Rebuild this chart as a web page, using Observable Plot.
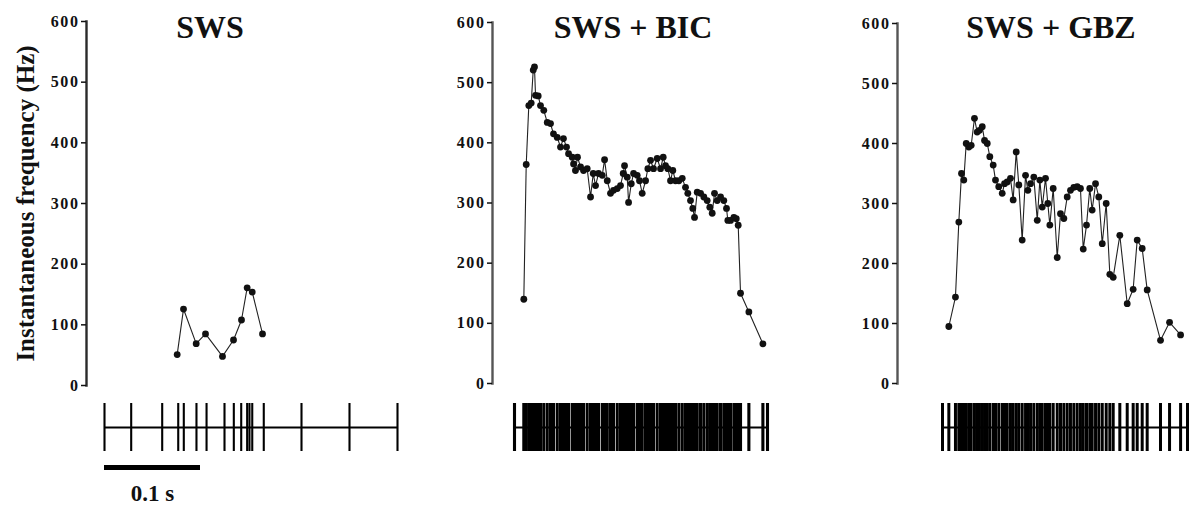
<!DOCTYPE html>
<html>
<head>
<meta charset="utf-8">
<script src="https://cdn.jsdelivr.net/npm/d3@7"></script>
<script src="https://cdn.jsdelivr.net/npm/@observablehq/plot@0.6"></script>
<style>
  html, body { margin: 0; padding: 0; background: #fff; }
  #fig { position: relative; width: 1190px; height: 506px; background: #fff; overflow: hidden; }
  #fig svg { position: absolute; }
  .title { position: absolute; font-family: 'Liberation Serif', 'Times New Roman', serif; font-weight: bold;
           font-size: 32px; line-height: 32px; text-align: center; color: #111; white-space: nowrap; }
  [aria-label="y-axis tick label"] text { letter-spacing: 1.6px; }
</style>
</head>
<body>
<div id="fig"></div>
<script>
// ---------- data (times in ms from start of raster, frequencies in Hz) ----------
const titles = ["SWS", "SWS + BIC", "SWS + GBZ"];
const yLabel = "Instantaneous frequency (Hz)";
const yTicks = [0, 100, 200, 300, 400, 500, 600];
const scaleBarMs = 100;
const scaleBarLabel = "0.1 s";

// SWS
const swsTimes = [75.7, 82.3, 95.5, 105.2, 122.9, 134.4, 142.7, 148.6, 153.9, 164.6];
const swsFreqs = [51, 126, 69, 85, 48, 75, 108, 161, 154, 85];
const swsSpikes = [0, 27.8, 60.1, 76.8, 82.6, 95.8, 106.3, 125.0, 134.7, 142.4, 148.6, 151.0, 153.9, 165.9, 205.2, 255.2, 305.2];

// SWS + BIC
const bicTimes = [9.7, 12.2, 14.9, 17.4, 19.5, 20.8, 21.9, 24.7, 27.1, 30.5, 34.1, 37.5, 40.6, 44.5, 47.9, 51.0,
  54.2, 56.3, 60.1, 61.5, 63.5, 65.6, 68.8, 71.9, 75.7, 79.2, 82.0, 84.4, 87.5, 91.4, 93.8, 96.6, 100.0, 103.1,
  107.0, 110.4, 113.2, 114.6, 117.4, 118.8, 121.6, 124.0, 127.8, 130.2, 133.0, 136.5, 138.9, 141.7, 144.8, 148.6,
  152.1, 154.9, 157.3, 159.7, 162.5, 164.9, 167.7, 171.2, 174.7, 178.1, 180.5, 183.3, 185.7, 187.5, 190.3, 193.8,
  197.2, 200.7, 203.4, 205.9, 208.3, 211.1, 214.6, 218.0, 220.8, 222.2, 225.0, 228.5, 231.0, 233.0, 235.4, 244.1, 258.7];
const bicFreqs = [140, 364, 462, 466, 521, 526, 479, 478, 462, 454, 434, 432, 415, 409, 393, 407,
  393, 382, 376, 365, 354, 376, 360, 354, 357, 310, 349, 329, 349, 346, 372, 337, 316, 321,
  324, 329, 349, 362, 343, 301, 332, 349, 346, 337, 316, 337, 357, 371, 357, 374,
  357, 376, 362, 357, 337, 354, 337, 337, 341, 326, 316, 304, 291, 276, 318, 316,
  310, 304, 293, 283, 316, 304, 310, 304, 291, 271, 271, 276, 274, 263, 150, 119, 66];
const bicFirstSpike = 0, bicLastSpike = 263.5;

// SWS + GBZ
const gbzTimes = [6.6, 13.5, 17.0, 19.8, 22.2, 24.7, 27.4, 29.9, 33.3, 36.1, 38.5, 41.4, 43.8, 46.6, 49.3, 52.8,
  55.2, 58.6, 62.2, 64.6, 67.4, 70.8, 73.6, 76.8, 79.5, 83.0, 86.5, 88.9, 91.7, 95.1, 98.7, 101.4, 103.9, 107.3,
  109.7, 111.8, 115.3, 119.5, 122.9, 126.4, 129.9, 133.3, 136.8, 140.3, 143.7, 146.6, 150.0, 153.4, 155.9, 159.4,
  162.8, 166.4, 170.5, 174.3, 177.8, 184.7, 192.4, 198.6, 202.8, 208.0, 213.2, 227.1, 236.5, 248.0];
const gbzFreqs = [95, 144, 269, 350, 339, 400, 394, 397, 442, 419, 422, 428, 405, 400, 378, 364,
  339, 328, 317, 333, 336, 342, 306, 386, 331, 239, 347, 322, 333, 344, 272, 339, 294, 342,
  300, 264, 325, 210, 283, 275, 311, 322, 327, 328, 325, 224, 264, 325, 289, 333,
  311, 233, 300, 182, 177, 247, 133, 157, 239, 225, 156, 72, 102, 81];
const gbzFirstSpike = 0, gbzLastSpike = 255.2;

// ---------- layout ----------
const layout = [
  {left: 0,   width: 420, axisX: 86,  y600: 21, y0: 385, xr: [104, 397],  T: 305.2, titleX: 210, axisColor: "#2a2a2a", spikeW: 2.1},
  {left: 420, width: 380, axisX: 492, y600: 22, y0: 383, xr: [514, 767],  T: 263.5, titleX: 633, axisColor: "#555",    spikeW: 3.1},
  {left: 800, width: 390, axisX: 897, y600: 23, y0: 383, xr: [942, 1187], T: 255.2, titleX: 1051, axisColor: "#555",   spikeW: 3.0}
];
const series = [
  {times: swsTimes, freqs: swsFreqs, spikes: swsSpikes},
  {times: bicTimes, freqs: bicFreqs, spikes: [bicFirstSpike, ...bicTimes, bicLastSpike]},
  {times: gbzTimes, freqs: gbzFreqs, spikes: [gbzFirstSpike, ...gbzTimes, gbzLastSpike]}
];

const FONT = "'Liberation Serif', 'Times New Roman', serif";
const fig = document.getElementById("fig");
const FREQ_H = 400, RASTER_TOP = 395, RASTER_H = 64;

function place(el, left, top) {
  el.style.left = left + "px";
  el.style.top = top + "px";
  fig.appendChild(el);
}

layout.forEach((p, i) => {
  const s = series[i];
  const data = s.times.map((t, k) => ({t, f: s.freqs[k]}));
  const xScale = {domain: [0, p.T], range: [p.xr[0] - p.left, p.xr[1] - p.left], axis: null};

  const freq = Plot.plot({
    width: p.width, height: FREQ_H,
    marginLeft: p.axisX - p.left, marginRight: 2,
    marginTop: p.y600, marginBottom: FREQ_H - p.y0,
    x: xScale,
    y: {domain: [0, 600]},
    style: {fontFamily: FONT, fontWeight: "bold", fontSize: "16px", color: "#111", background: "transparent", overflow: "visible"},
    marks: [
      Plot.frame({anchor: "left", stroke: p.axisColor, strokeWidth: 2.4}),
      Plot.axisY({ticks: yTicks, tickSize: 5, tickPadding: 2, tickFormat: d => String(d), label: null, strokeWidth: 1.5}),
      Plot.line(data, {x: "t", y: "f", stroke: "#222", strokeWidth: 1.1}),
      Plot.dot(data, {x: "t", y: "f", r: 3.4, fill: "#111", stroke: "none"}),
      i === 0 ? Plot.text([yLabel], {text: d => d, frameAnchor: "left", textAnchor: "middle", rotate: -90, dx: -61,
                                     fontSize: 25, fontWeight: "bold", fill: "#111"}) : null
    ]
  });
  place(freq, p.left, 0);

  const raster = Plot.plot({
    width: p.width, height: RASTER_H,
    marginLeft: 0, marginRight: 0, marginTop: 8, marginBottom: 8,
    x: xScale,
    y: {domain: [-1, 1], axis: null},
    style: {background: "transparent", overflow: "visible"},
    marks: [
      Plot.ruleX(s.spikes, {x: d => d, stroke: "#000", strokeWidth: p.spikeW}),
      Plot.ruleY([0], {x1: 0, x2: p.T, stroke: "#000", strokeWidth: 1.8})
    ]
  });
  place(raster, p.left, RASTER_TOP);

  const t = document.createElement("div");
  t.className = "title";
  t.textContent = titles[i];
  t.style.width = "300px";
  place(t, p.titleX - 150, 11);

  if (i === 0) {
    const bar = Plot.plot({
      width: p.width, height: 46,
      marginLeft: 0, marginRight: 0, marginTop: 0, marginBottom: 0,
      x: xScale,
      y: {domain: [0, 1], range: [7, 40], axis: null},
      style: {fontFamily: FONT, fontWeight: "bold", background: "transparent", overflow: "visible"},
      marks: [
        Plot.ruleY([0], {x1: 0, x2: scaleBarMs, stroke: "#000", strokeWidth: 5}),
        Plot.text([scaleBarLabel], {text: d => d, x: scaleBarMs / 2, y: 1, lineAnchor: "bottom",
                                    fontSize: 23, fontWeight: "bold", fill: "#111"})
      ]
    });
    place(bar, p.left, 460);
  }
});
</script>
</body>
</html>
